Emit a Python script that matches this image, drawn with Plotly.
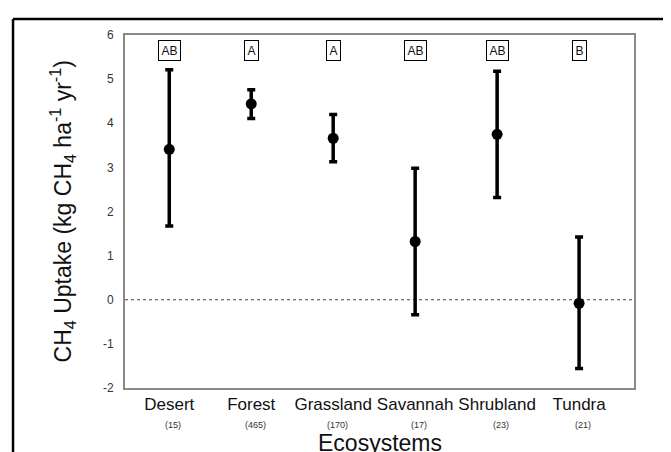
import plotly.graph_objects as go

categories = ["Desert", "Forest", "Grassland", "Savannah", "Shrubland", "Tundra"]
counts = ["(15)", "(465)", "(170)", "(17)", "(23)", "(21)"]
means = [3.41, 4.44, 3.66, 1.32, 3.75, -0.08]
upper = [5.21, 4.76, 4.20, 2.98, 5.18, 1.42]
lower = [1.67, 4.11, 3.13, -0.34, 2.32, -1.56]
letters = ["AB", "A", "A", "AB", "AB", "B"]
y_ticks = [-2, -1, 0, 1, 2, 3, 4, 5, 6]

FONT = "Arial, Liberation Sans, sans-serif"
xs = list(range(len(categories)))
err_plus = [u - m for u, m in zip(upper, means)]
err_minus = [m - l for m, l in zip(means, lower)]

fig = go.Figure()
fig.add_trace(go.Scatter(
    x=xs, y=means, mode="markers",
    marker=dict(size=11, color="black"),
    error_y=dict(type="data", symmetric=False, array=err_plus, arrayminus=err_minus,
                 color="black", thickness=3.5, width=4),
    showlegend=False, hoverinfo="skip",
))

# page body has an 8px margin, so the figure is sized/offset to fit the 671x452 window
fig.update_layout(
    width=663, height=444,
    margin=dict(l=117, r=37, t=27, b=64, autoexpand=False),
    paper_bgcolor="white", plot_bgcolor="white",
    font=dict(family=FONT, color="#111"),
    xaxis=dict(range=[-0.54, 5.67], tickmode="array", tickvals=xs, ticktext=categories,
               showgrid=False, zeroline=False, showline=True, linecolor="#888", linewidth=2,
               mirror=True, ticks="", automargin=False, ticklabelstandoff=0, tickangle=0,
               tickfont=dict(size=17, color="#111", family=FONT)),
    yaxis=dict(range=[-2, 6], tickmode="array", tickvals=y_ticks, ticktext=[str(t) for t in y_ticks],
               showgrid=False, zeroline=False, showline=True, linecolor="#888", linewidth=2,
               mirror=True, ticks="", ticklabelstandoff=7, automargin=False,
               tickfont=dict(size=12, color="#333", family=FONT)),
)

# dotted zero line
fig.add_shape(type="line", xref="paper", yref="y", x0=0, x1=1, y0=0, y1=0,
              line=dict(color="#444", width=1, dash="dot"), layer="below")

# letter boxes
for x, lab in zip(xs, letters):
    fig.add_annotation(x=x, y=5.65, xref="x", yref="y", text=lab, showarrow=False,
                       font=dict(size=12, color="#111", family=FONT),
                       bordercolor="black", borderwidth=1, borderpad=2.5, bgcolor="white")

# sample counts under category labels
for x, n in zip(xs, counts):
    fig.add_annotation(x=x + 0.05, y=-0.105, xref="x", yref="paper", yanchor="middle",
                       text=n, showarrow=False, font=dict(size=9, color="#333", family=FONT))

# axis titles
fig.add_annotation(x=0.5, y=-0.155, xref="paper", yref="paper", yanchor="middle",
                   text="Ecosystems", showarrow=False,
                   font=dict(size=23, color="#111", family=FONT))
fig.add_annotation(x=-0.124, y=0.5, xref="paper", yref="paper", xanchor="center", yanchor="middle",
                   text="CH<sub>4</sub> Uptake (kg CH<sub>4</sub> ha<sup>-1</sup> yr<sup>-1</sup>)",
                   textangle=-90, showarrow=False,
                   font=dict(size=23, color="#111", family=FONT))

# outer frame (top, left, right edges; bottom runs off the page)
frame = dict(color="black", width=2.5)
top = 1.045
fig.add_shape(type="line", xref="paper", yref="paper", x0=-0.22, x1=1.065, y0=top, y1=top, line=frame)
fig.add_shape(type="line", xref="paper", yref="paper", x0=-0.22, x1=-0.22, y0=-0.4, y1=top, line=frame)
fig.add_shape(type="line", xref="paper", yref="paper", x0=1.065, x1=1.065, y0=-0.4, y1=top, line=frame)

fig.write_html("out.html")
